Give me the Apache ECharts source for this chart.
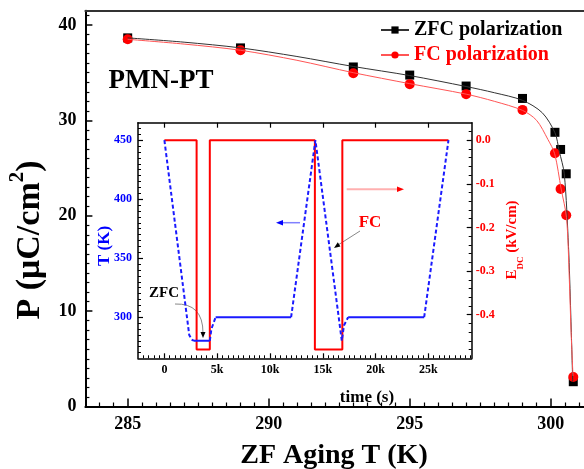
<!DOCTYPE html>
<html>
<head>
<meta charset="utf-8">
<script src="https://cdn.jsdelivr.net/npm/echarts@6/dist/echarts.min.js"></script>
<style>html,body{margin:0;padding:0;background:#fff}#c{width:584px;height:469px}</style>
</head>
<body>
<div id="c"></div>
<script>
// ---- main chart: measured points ----
const agingTemps = [285, 289, 293, 295, 297, 299, 300.15, 300.35, 300.55, 300.8];
const zfcPolarization = [38.65, 37.6, 35.6, 34.75, 33.6, 32.3, 28.75, 26.95, 24.4, 2.6];
const fcPolarization = [38.5, 37.35, 34.95, 33.8, 32.75, 31.1, 26.55, 22.8, 20.05, 3.1];
// ---- main chart: fitted curves ----
const zfcFitTemps = [285, 287, 289, 291, 293, 295, 297, 298, 299, 299.7, 300.15, 300.3, 300.48, 300.63, 300.71, 300.78];
const zfcFitP = [38.65, 38.2, 37.6, 36.7, 35.65, 34.7, 33.55, 32.9, 32.1, 30.8, 28.7, 26.8, 24.4, 16.8, 9.8, 2.6];
const fcFitTemps = [285, 287, 289, 291, 293, 295, 297, 298, 299, 299.5, 299.9, 300.14, 300.37, 300.56, 300.66, 300.72, 300.79];
const fcFitP = [38.5, 38.0, 37.35, 36.3, 35.0, 33.85, 32.75, 32.0, 31.05, 30.0, 28.0, 26.5, 22.8, 19.8, 13.3, 8.0, 3.2];
const mainXTicks = [285, 290, 295, 300];
const mainYTicks = [0, 10, 20, 30, 40];

// ---- inset data ----
const rampTimes = [0, 2350, 2600, 2800, null, 4300, 4450, 4850, null, 12000, 14300, 16800, 17000, 17400, null, 24600, 26900];
const rampTemps = [450, 285, 281, 280, null, 280, 290, 300, null, 300, 450, 280, 293, 300, null, 300, 450];
const holdTimes = [2800, 4300, null, 4850, 12000, null, 17400, 24600];
const holdTemps = [280, 280, null, 300, 300, null, 300, 300];
const fieldTimes = [0, 3050, 3050, 4300, 4300, 14250, 14250, 16850, 16850, 26900];
const fieldValues = [0, 0, -0.48, -0.48, 0, 0, -0.48, -0.48, 0, 0];
const insetTimeTicks = [0, 5000, 10000, 15000, 20000, 25000];
const insetTTicks = [300, 350, 400, 450];
const insetETicks = [0, -0.1, -0.2, -0.3, -0.4];

const FONT = "'Liberation Serif','Times New Roman',serif";
const pairs = (xs, ys) => xs.map((x, i) => x === null ? ['-', '-'] : [x, ys[i]]);
function minors(from, to, step, majors) {
  const out = [];
  for (let v = from; v <= to + 1e-9; v += step) {
    const r = Math.round(v * 1000) / 1000;
    if (!majors.some(m => Math.abs(m - r) < 1e-6)) out.push(r);
  }
  return out;
}

const chart = echarts.init(document.getElementById('c'), null, {renderer: 'canvas'});

const hidden = {show: false};
function axisBase(extra) {
  return Object.assign({type: 'value', splitLine: hidden, axisLabel: hidden, axisTick: hidden,
    axisLine: {show: false, onZero: false}}, extra);
}
const option = {
  animation: false,
  backgroundColor: '#fff',
  grid: [
    {left: 85.4, right: 0, top: 10.7, bottom: 62.5},
    {left: 138, right: 112.3, top: 122.7, bottom: 110.7}
  ],
  legend: {
    orient: 'vertical', left: 375, top: 14, itemWidth: 28, itemHeight: 9, itemGap: 3,
    textStyle: {fontFamily: FONT, fontWeight: 'bold', fontSize: 20, lineHeight: 22},
    data: [
      {name: 'ZFC polarization', textStyle: {color: '#000'}},
      {name: 'FC polarization', textStyle: {color: '#ff0000'}}
    ]
  },
  xAxis: [
    axisBase({ // 0 main bottom majors
      gridIndex: 0, min: 283.5, max: 301.18, position: 'bottom',
      axisLine: {show: true, onZero: false, lineStyle: {color: '#000', width: 2}},
      axisTick: {show: true, inside: true, length: 8, customValues: mainXTicks, lineStyle: {color: '#000', width: 1.5}},
      axisLabel: {show: true, customValues: mainXTicks, margin: 9, color: '#000', fontFamily: FONT, fontWeight: 'bold', fontSize: 18}
    }),
    axisBase({ // 1 main bottom minors
      gridIndex: 0, min: 283.5, max: 301.18, position: 'bottom',
      axisTick: {show: true, inside: true, length: 4, customValues: minors(284, 301, 0.5, mainXTicks), lineStyle: {color: '#000', width: 1.2}}
    }),
    axisBase({ // 2 main top border
      gridIndex: 0, min: 283.5, max: 301.18, position: 'top',
      axisLine: {show: true, onZero: false, lineStyle: {color: '#333', width: 2}}
    }),
    axisBase({ // 3 inset bottom majors
      gridIndex: 1, min: -2500, max: 29100, position: 'bottom',
      axisLine: {show: true, onZero: false, lineStyle: {color: '#000', width: 1.5}},
      axisTick: {show: true, inside: true, length: 5, customValues: insetTimeTicks, lineStyle: {color: '#000', width: 1.2}},
      axisLabel: {show: true, customValues: insetTimeTicks, margin: 6, color: '#000', fontFamily: FONT, fontWeight: 'bold', fontSize: 12,
        formatter: v => v === 0 ? '0' : (v / 1000) + 'k'}
    }),
    axisBase({ // 4 inset bottom minors
      gridIndex: 1, min: -2500, max: 29100, position: 'bottom',
      axisTick: {show: true, inside: true, length: 3, customValues: minors(-2000, 29000, 500, insetTimeTicks), lineStyle: {color: '#000', width: 1}}
    }),
    axisBase({ // 5 inset top
      gridIndex: 1, min: -2500, max: 29100, position: 'top',
      axisLine: {show: true, onZero: false, lineStyle: {color: '#000', width: 1.5}},
      axisTick: {show: true, inside: true, length: 5, customValues: insetTimeTicks, lineStyle: {color: '#000', width: 1.2}}
    })
  ],
  yAxis: [
    axisBase({ // 0 main left majors
      gridIndex: 0, min: 0, max: 41.5, position: 'left',
      axisLine: {show: true, onZero: false, lineStyle: {color: '#000', width: 2}},
      axisTick: {show: true, inside: true, length: 7, customValues: mainYTicks, lineStyle: {color: '#000', width: 1.5}},
      axisLabel: {show: true, customValues: mainYTicks, margin: 9, color: '#000', fontFamily: FONT, fontWeight: 'bold', fontSize: 18}
    }),
    axisBase({ // 1 main left minors
      gridIndex: 0, min: 0, max: 41.5, position: 'left',
      axisTick: {show: true, inside: true, length: 4, customValues: minors(1, 41, 1, mainYTicks), lineStyle: {color: '#000', width: 1.2}}
    }),
    axisBase({ // 2 inset left T majors
      gridIndex: 1, min: 265.2, max: 464.8, position: 'left',
      axisLine: {show: true, onZero: false, lineStyle: {color: '#000', width: 1.5}},
      axisTick: {show: true, inside: true, length: 5, customValues: insetTTicks, lineStyle: {color: '#000', width: 1.2}},
      axisLabel: {show: true, customValues: insetTTicks, margin: 6, color: '#0000ff', fontFamily: FONT, fontWeight: 'bold', fontSize: 12}
    }),
    axisBase({ // 3 inset left minors
      gridIndex: 1, min: 265.2, max: 464.8, position: 'left',
      axisTick: {show: true, inside: true, length: 3, customValues: minors(270, 460, 5, insetTTicks), lineStyle: {color: '#000', width: 1}}
    }),
    axisBase({ // 4 inset right E majors
      gridIndex: 1, min: -0.5, max: 0.04, position: 'right',
      axisLine: {show: true, onZero: false, lineStyle: {color: '#000', width: 1.5}},
      axisTick: {show: true, inside: true, length: 5, customValues: insetETicks, lineStyle: {color: '#000', width: 1.2}},
      axisLabel: {show: true, customValues: insetETicks, margin: 4, color: '#ff0000', fontFamily: FONT, fontWeight: 'bold', fontSize: 12,
        formatter: v => v.toFixed(1)}
    }),
    axisBase({ // 5 inset right minors
      gridIndex: 1, min: -0.5, max: 0.04, position: 'right',
      axisTick: {show: true, inside: true, length: 3, customValues: minors(-0.48, 0.02, 0.02, insetETicks), lineStyle: {color: '#000', width: 1}}
    })
  ],
  series: [
    {
      name: 'ZFC polarization', type: 'line', xAxisIndex: 0, yAxisIndex: 0,
      data: pairs(zfcFitTemps, zfcFitP), smooth: 0.3,
      symbol: 'rect', symbolSize: 9, showSymbol: false,
      itemStyle: {color: '#000'},
      lineStyle: {color: '#333', width: 1}
    },
    {
      name: 'ZFC polarization', type: 'scatter', xAxisIndex: 0, yAxisIndex: 0,
      data: pairs(agingTemps, zfcPolarization),
      symbol: 'rect', symbolSize: 9, itemStyle: {color: '#000', opacity: 1}
    },
    {
      name: 'FC polarization', type: 'line', xAxisIndex: 0, yAxisIndex: 0,
      data: pairs(fcFitTemps, fcFitP), smooth: 0.3,
      symbol: 'circle', symbolSize: 10, showSymbol: false,
      itemStyle: {color: '#ff0000'},
      lineStyle: {color: '#ff5555', width: 1}
    },
    {
      name: 'FC polarization', type: 'scatter', xAxisIndex: 0, yAxisIndex: 0,
      data: pairs(agingTemps, fcPolarization),
      symbol: 'circle', symbolSize: 10, itemStyle: {color: '#ff0000', opacity: 1}
    },
    {
      name: 'Edc', type: 'line', xAxisIndex: 3, yAxisIndex: 4,
      data: pairs(fieldTimes, fieldValues), showSymbol: false, symbol: 'none',
      lineStyle: {color: '#ff0000', width: 2}
    },
    {
      name: 'T ramp', type: 'line', xAxisIndex: 3, yAxisIndex: 2,
      data: pairs(rampTimes, rampTemps), showSymbol: false, symbol: 'none', connectNulls: false,
      lineStyle: {color: '#1a1aff', width: 2, type: [4, 2.5]}
    },
    {
      name: 'T hold', type: 'line', xAxisIndex: 3, yAxisIndex: 2,
      data: pairs(holdTimes, holdTemps), showSymbol: false, symbol: 'none', connectNulls: false,
      lineStyle: {color: '#1a1aff', width: 2}
    }
  ],
  graphic: [
    {type: 'text', x: 161, y: 81, style: {text: 'PMN-PT', font: "bold 27px " + FONT, fill: '#000', align: 'center', verticalAlign: 'middle'}},
    {type: 'text', x: 334, y: 456, style: {text: 'ZF Aging T (K)', font: "bold 28px " + FONT, fill: '#000', align: 'center', verticalAlign: 'middle'}},
    {type: 'text', x: 27, y: 240, rotation: Math.PI / 2,
      style: {text: '{a|P (μC/cm}{s|2}{a|)}', align: 'center', verticalAlign: 'middle',
        rich: {a: {font: "bold 34px " + FONT, fill: '#000', lineHeight: 40, verticalAlign: 'bottom'},
               s: {font: "bold 21px " + FONT, fill: '#000', lineHeight: 40, verticalAlign: 'top'}}}},
    {type: 'text', x: 367, y: 398, style: {text: 'time (s)', font: "bold 17px " + FONT, fill: '#000', align: 'center', verticalAlign: 'middle'}},
    {type: 'text', x: 105, y: 246, rotation: Math.PI / 2, style: {text: 'T (K)', font: "bold 17px " + FONT, fill: '#0000ff', align: 'center', verticalAlign: 'middle'}},
    {type: 'text', x: 515, y: 240, rotation: Math.PI / 2,
      style: {text: '{e|E}{d|DC}{e| (kV/cm)}', align: 'center', verticalAlign: 'middle',
        rich: {e: {font: "bold 15px " + FONT, fill: '#ff0000', lineHeight: 20, verticalAlign: 'top'},
               d: {font: "bold 9px " + FONT, fill: '#ff0000', lineHeight: 20, verticalAlign: 'bottom'}}}},
    {type: 'text', x: 164, y: 293, style: {text: 'ZFC', font: "bold 15px " + FONT, fill: '#000', align: 'center', verticalAlign: 'middle'}},
    {type: 'text', x: 370, y: 223, style: {text: 'FC', font: "bold 17px " + FONT, fill: '#ff0000', align: 'center', verticalAlign: 'middle'}},
    // ZFC arrow
    {type: 'bezierCurve', shape: {x1: 175, y1: 304, x2: 203, y2: 333, cpx1: 203, cpy1: 303}, style: {stroke: '#888', lineWidth: 1, fill: null}},
    {type: 'polygon', shape: {points: [[200.5, 332], [203, 338], [205.5, 332]]}, style: {fill: '#000'}},
    // FC arrow
    {type: 'line', shape: {x1: 360, y1: 231, x2: 338, y2: 245}, style: {stroke: '#888', lineWidth: 1}},
    {type: 'polygon', shape: {points: [[340.4, 246.5], [334, 248], [337.8, 242.3]]}, style: {fill: '#000'}},
    // blue arrow (left)
    {type: 'line', shape: {x1: 300, y1: 222.7, x2: 282, y2: 222.7}, style: {stroke: '#8080ff', lineWidth: 1.5}},
    {type: 'polygon', shape: {points: [[283, 220], [276, 222.7], [283, 225.4]]}, style: {fill: '#0000ff'}},
    // red arrow (right)
    {type: 'line', shape: {x1: 346.7, y1: 189.3, x2: 398, y2: 189.3}, style: {stroke: '#ffb0b0', lineWidth: 2}},
    {type: 'polygon', shape: {points: [[397, 186.5], [404, 189.3], [397, 192.1]]}, style: {fill: '#ff0000'}}
  ]
};
chart.setOption(option);
</script>
</body>
</html>
